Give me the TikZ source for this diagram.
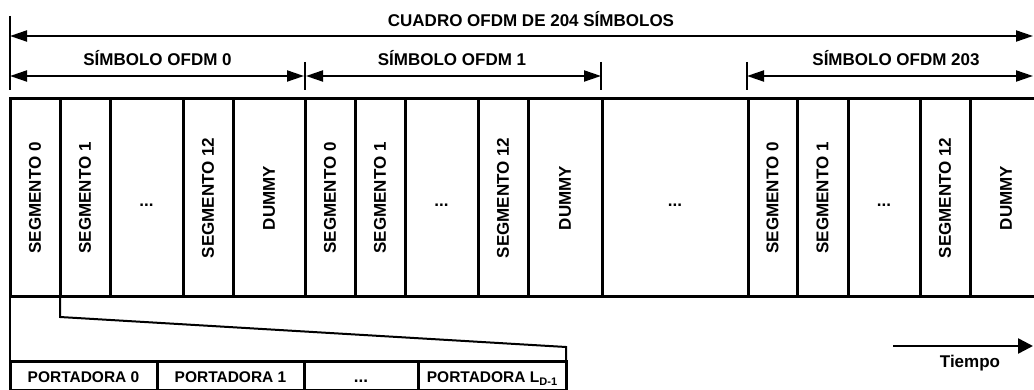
\documentclass[tikz,border=0pt]{standalone}
\usepackage{fontspec}
\setmainfont{Liberation Sans}
\usetikzlibrary{arrows.meta}
\tikzset{
  cellbox/.style={draw, line width=3pt, inner sep=0pt, outer sep=0pt, minimum height=198pt},
  portbox/.style={draw, line width=3pt, inner sep=0pt, outer sep=0pt, minimum height=29.5pt},
  segtext/.style={rotate=90, inner sep=0pt, font=\fontsize{17}{20}\selectfont\bfseries},
  lbl/.style={inner sep=0pt, font=\fontsize{17}{20}\selectfont\bfseries},
  plbl/.style={inner sep=0pt, anchor=base, font=\fontsize{15.5}{18}\selectfont\bfseries},
  ticksty/.style={line width=2pt},
  dimarrow/.style={line width=2pt, {Triangle[length=17pt,width=11pt]}-{Triangle[length=17pt,width=11pt]}},
  link/.style={line width=2pt},
  timearrow/.style={line width=2.5pt, -{Triangle[length=15pt,width=15pt]}},
}
\newcommand\mycell[3]{\node[cellbox,minimum width={(#3-#2)*1pt}] (#1) at ({(#2+#3)/2},198) {};}
\newcommand\myport[3]{\node[portbox,minimum width={(#3-#2)*1pt}] (#1) at ({(#2+#3)/2},375.75) {};}
\begin{document}
\begin{tikzpicture}[x=1pt,y=-1pt]
\useasboundingbox (0,0) rectangle (1034,390);

% frame cells
\mycell{a0}{10}{60}\mycell{a1}{60}{110}\mycell{a2}{110}{183}\mycell{a3}{183}{233}\mycell{a4}{233}{305}
\mycell{b0}{305}{355}\mycell{b1}{355}{405}\mycell{b2}{405}{478}\mycell{b3}{478}{528}\mycell{b4}{528}{602}
\mycell{m}{602}{748}
\mycell{c0}{748}{797}\mycell{c1}{797}{848}\mycell{c2}{848}{920}\mycell{c3}{920}{970}\mycell{c4}{970}{1042}

\node[segtext] (ta0) at (a0.center) {SEGMENTO 0};
\node[segtext] (ta1) at (a1.center) {SEGMENTO 1};
\node[lbl,anchor=base] (ta2) at ([yshift=-9pt]a2.center) {...};
\node[segtext] (ta3) at (a3.center) {SEGMENTO 12};
\node[segtext] (ta4) at (a4.center) {DUMMY};
\node[segtext] (tb0) at (b0.center) {SEGMENTO 0};
\node[segtext] (tb1) at (b1.center) {SEGMENTO 1};
\node[lbl,anchor=base] (tb2) at ([yshift=-9pt]b2.center) {...};
\node[segtext] (tb3) at (b3.center) {SEGMENTO 12};
\node[segtext] (tb4) at (b4.center) {DUMMY};
\node[lbl,anchor=base] (tm) at ([yshift=-9pt]m.center) {...};
\node[segtext] (tc0) at (c0.center) {SEGMENTO 0};
\node[segtext] (tc1) at (c1.center) {SEGMENTO 1};
\node[lbl,anchor=base] (tc2) at ([yshift=-9pt]c2.center) {...};
\node[segtext] (tc3) at (c3.center) {SEGMENTO 12};
\node[segtext] (tc4) at (c4.center) {DUMMY};

% ticks
\coordinate (k0a) at (10,16);  \coordinate (k0b) at (10,90);
\coordinate (k1a) at (305,62); \coordinate (k1b) at (305,90);
\coordinate (k2a) at (601,62); \coordinate (k2b) at (601,90);
\coordinate (k3a) at (747,62); \coordinate (k3b) at (747,90);
\draw[ticksty] (k0a) -- (k0b);
\draw[ticksty] (k1a) -- (k1b);
\draw[ticksty] (k2a) -- (k2b);
\draw[ticksty] (k3a) -- (k3b);

% dimension arrows
\coordinate (fL) at (10,36);   \coordinate (fR) at (1033,36);
\coordinate (s0L) at (10,76);  \coordinate (s0R) at (304,76);
\coordinate (s1L) at (306,76); \coordinate (s1R) at (601,76);
\coordinate (s2L) at (747,76); \coordinate (s2R) at (1033,76);
\draw[dimarrow] (fL) -- (fR);
\draw[dimarrow] (s0L) -- (s0R);
\draw[dimarrow] (s1L) -- (s1R);
\draw[dimarrow] (s2L) -- (s2R);

\node[lbl,anchor=base] (cuadro) at (531,27) {CUADRO OFDM DE 204 SÍMBOLOS};
\node[lbl,anchor=base] (sym0) at (157.5,65.5) {SÍMBOLO OFDM 0};
\node[lbl,anchor=base] (sym1) at (452,65.5) {SÍMBOLO OFDM 1};
\node[lbl,anchor=base] (sym203) at (896,65.5) {SÍMBOLO OFDM 203};

% carriers
\myport{p0}{10}{157}\myport{p1}{157}{304}\myport{p2}{304}{418}\myport{p3}{418}{566}
\node[plbl] (tp0) at ([yshift=-6.25pt]p0.center) {PORTADORA 0};
\node[plbl] (tp1) at ([yshift=-6.25pt]p1.center) {PORTADORA 1};
\node[plbl,font=\fontsize{17}{20}\selectfont\bfseries] (tp2) at ([yshift=-6.25pt]p2.center) {...};
\node[plbl] (tp3) at ([yshift=-6.25pt]p3.center) {PORTADORA L\raisebox{-3pt}{\fontsize{11}{11}\selectfont D-1}};

% zoom connectors
\coordinate (bend1) at (60,317);
\coordinate (bend2) at (566,347);
\draw[link] (a0.south west) -- (p0.north west);
\draw[link] (a1.south west) -- (bend1) -- (bend2) -- (p3.north east);

% time arrow
\coordinate (tS) at (893,346);
\coordinate (tE) at (1033,346);
\draw[timearrow] (tS) -- (tE);
\node[lbl,anchor=base] (tiempo) at (970,367) {Tiempo};
\end{tikzpicture}
\end{document}
